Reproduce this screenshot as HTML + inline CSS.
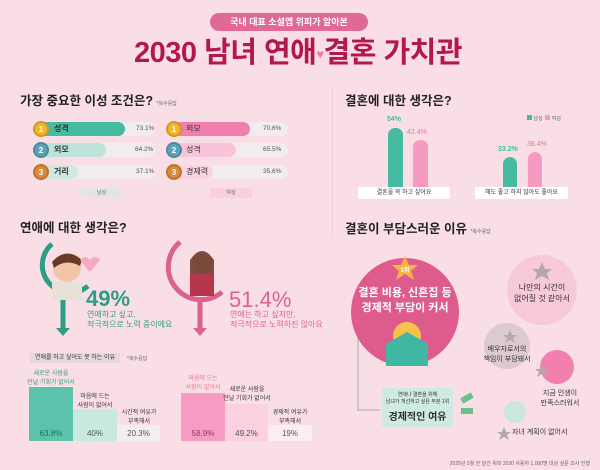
<!DOCTYPE html>
<html><head><meta charset="utf-8"><style>
*{margin:0;padding:0;box-sizing:border-box}
body{width:600px;height:470px;background:#f9dfe5;font-family:"Liberation Sans","Noto Sans CJK KR",sans-serif;position:relative;overflow:hidden;color:#333}
.a{position:absolute;white-space:nowrap}
.h{font-weight:bold;font-size:12.5px;color:#222;line-height:16px}
.s{font-size:5px;color:#666;font-weight:normal}
.c{text-align:center}
.bg{position:absolute;height:14px;border-radius:7px}
.med{position:absolute;width:16px;height:16px;border-radius:50%;color:#fff;font-size:8px;text-align:center;line-height:13px;font-weight:bold;border:2px solid rgba(0,0,0,.15)}
.lbl{font-size:8px;font-weight:bold;color:#333}
.pct{font-size:6.5px;color:#555}
</style></head><body>
<div class="a c" style="left:210px;top:13px;width:158px;height:18px;border-radius:9px;background:#e06a95;color:#fff;font-size:9px;line-height:18px;font-weight:bold">국내 대표 소셜앱 위피가 알아본</div>
<div class="a c" style="left:120px;top:35px;width:356px;font-size:29px;font-weight:bold;color:#b3184c;line-height:36px;letter-spacing:-0.5px">2030 남녀 연애<span style="color:#f27aa3;font-size:13px;vertical-align:middle">♥</span>결혼 가치관</div>

<div class="a h" style="left:20px;top:93px">가장 중요한 이성 조건은? <span class="s">*복수응답</span></div>
<div class="a" style="left:332px;top:88px;width:1px;height:150px;background:#f2cfd8"></div>
<div class="a h" style="left:345px;top:93px">결혼에 대한 생각은?</div>

<!-- men -->
<div class="bg" style="left:35px;top:122px;width:120px;background:#f3ecee"></div>
<div class="bg" style="left:35px;top:122px;width:90px;background:#45bba2"></div>
<div class="bg" style="left:35px;top:143px;width:120px;background:#f3ecee"></div>
<div class="bg" style="left:35px;top:143px;width:71px;background:#bde3da"></div>
<div class="bg" style="left:35px;top:165px;width:120px;background:#f3ecee"></div>
<div class="bg" style="left:35px;top:165px;width:43px;background:#cfe9e2"></div>
<div class="med" style="left:33px;top:121px;background:#f2b52c">1</div>
<div class="med" style="left:33px;top:142px;background:#5ba3b8">2</div>
<div class="med" style="left:33px;top:164px;background:#d98a3a">3</div>
<div class="a lbl" style="left:54px;top:123px">성격</div>
<div class="a lbl" style="left:54px;top:144px">외모</div>
<div class="a lbl" style="left:54px;top:166px">거리</div>
<div class="a pct" style="left:136px;top:125px">73.1%</div>
<div class="a pct" style="left:135px;top:146px">64.2%</div>
<div class="a pct" style="left:136px;top:168px">37.1%</div>
<!-- women -->
<div class="bg" style="left:168px;top:122px;width:120px;background:#f3ecee"></div>
<div class="bg" style="left:168px;top:122px;width:82px;background:#f07fae"></div>
<div class="bg" style="left:168px;top:143px;width:120px;background:#f3ecee"></div>
<div class="bg" style="left:168px;top:143px;width:68px;background:#f9c4d9"></div>
<div class="bg" style="left:168px;top:165px;width:120px;background:#f3ecee"></div>
<div class="bg" style="left:168px;top:165px;width:45px;background:#fbd3e2"></div>
<div class="med" style="left:166px;top:121px;background:#f2b52c">1</div>
<div class="med" style="left:166px;top:142px;background:#5ba3b8">2</div>
<div class="med" style="left:166px;top:164px;background:#d98a3a">3</div>
<div class="a lbl" style="left:186px;top:123px;font-weight:normal">외모</div>
<div class="a lbl" style="left:186px;top:144px;font-weight:normal">성격</div>
<div class="a lbl" style="left:186px;top:166px;font-weight:normal">경제력</div>
<div class="a pct" style="left:263px;top:125px">70.6%</div>
<div class="a pct" style="left:263px;top:146px">65.5%</div>
<div class="a pct" style="left:263px;top:168px">35.6%</div>
<div class="a c s" style="left:81px;top:188px;width:41px;height:10px;background:#e3e5e3;line-height:10px">남성</div>
<div class="a c s" style="left:210px;top:188px;width:42px;height:10px;background:#f8d0de;line-height:10px">여성</div>

<!-- marriage chart -->
<div class="a s" style="left:527px;top:115px"><span style="display:inline-block;width:5px;height:5px;background:#45bba2"></span> 남성 &nbsp;<span style="display:inline-block;width:5px;height:5px;background:#f59ac0"></span> 여성</div>
<div class="a" style="left:388px;top:128px;width:15px;height:59px;background:#45bba2;border-radius:7px 7px 0 0"></div>
<div class="a" style="left:413px;top:140px;width:15px;height:47px;background:#f59ac0;border-radius:7px 7px 0 0"></div>
<div class="a" style="left:503px;top:157px;width:14px;height:30px;background:#45bba2;border-radius:7px 7px 0 0"></div>
<div class="a" style="left:528px;top:152px;width:14px;height:35px;background:#f59ac0;border-radius:7px 7px 0 0"></div>
<div class="a" style="left:387px;top:116px;font-size:7px;font-weight:bold;color:#45bba2">54%</div>
<div class="a" style="left:407px;top:129px;font-size:7px;color:#e8739f">42.4%</div>
<div class="a" style="left:498px;top:146px;font-size:7px;font-weight:bold;color:#45bba2">33.2%</div>
<div class="a" style="left:527px;top:141px;font-size:7px;color:#e8739f">38.4%</div>
<div class="a c" style="left:358px;top:187px;width:92px;height:12px;background:#fff;font-size:6px;line-height:12px">결혼을 꼭 하고 싶어요</div>
<div class="a c" style="left:475px;top:187px;width:93px;height:12px;background:#fff;font-size:6px;line-height:12px">해도 좋고 하지 않아도 좋아요</div>

<!-- 연애 -->
<div class="a h" style="left:20px;top:220px">연애에 대한 생각은?</div>
<svg class="a" style="left:0;top:230px" width="330" height="120">
<path d="M52 14 A26 26 0 1 0 88 56" fill="none" stroke="#2d9e85" stroke-width="5"/>
<line x1="63" y1="70" x2="63" y2="100" stroke="#2d9e85" stroke-width="5"/>
<path d="M56 98 L70 98 L63 106Z" fill="#2d9e85"/>
<circle cx="67" cy="38" r="14" fill="#f1c6a8"/><path d="M52 32 Q66 16 82 30 L80 36 Q66 28 54 38Z" fill="#6b3a24"/>
<rect x="52" y="52" width="30" height="18" fill="#e8e2d6"/>
<path d="M80 30 q5 -6 10 0 q5 -6 10 0 l-10 12z" fill="#f6a9c3"/>
<path d="M180 12 A26 26 0 1 0 222 62" fill="none" stroke="#d9628e" stroke-width="5"/>
<line x1="200" y1="70" x2="200" y2="100" stroke="#d9628e" stroke-width="5"/>
<path d="M193 98 L207 98 L200 106Z" fill="#d9628e"/>
<circle cx="202" cy="34" r="10" fill="#f1c6a8"/><path d="M190 30 Q202 12 214 30 L214 52 L190 52Z" fill="#5b2a1e" opacity=".8"/>
<rect x="190" y="44" width="24" height="22" fill="#b4384a"/>
</svg>
<div class="a" style="left:86px;top:286px;font-size:22px;font-weight:bold;color:#2d9e85">49%</div>
<div class="a" style="left:87px;top:310px;font-size:8px;color:#2d9e85;line-height:10px">연애하고 싶고,<br>적극적으로 노력 중이에요</div>
<div class="a" style="left:229px;top:287px;font-size:22px;color:#d9628e">51.4%</div>
<div class="a" style="left:230px;top:310px;font-size:8px;color:#d9628e;line-height:10px">연애는 하고 싶지만,<br>적극적으로 노력하진 않아요</div>
<div class="a c" style="left:30px;top:353px;width:90px;height:10px;background:#e6d9dd;font-size:6px;line-height:10px">연애를 하고 싶어도 못 하는 이유</div>
<div class="a s" style="left:127px;top:355px;font-size:5px">*복수응답</div>

<div class="a" style="left:29px;top:387px;width:44px;height:54px;background:#5bc2ac"></div>
<div class="a" style="left:73px;top:409px;width:44px;height:32px;background:#c9e8e0"></div>
<div class="a" style="left:117px;top:425px;width:43px;height:16px;background:#f3eff0"></div>
<div class="a" style="left:181px;top:393px;width:44px;height:48px;background:#f69cc2"></div>
<div class="a" style="left:225px;top:404px;width:43px;height:37px;background:#fbd0e1"></div>
<div class="a" style="left:268px;top:425px;width:44px;height:16px;background:#fcedf2"></div>
<div class="a c" style="left:22px;top:370px;width:58px;font-size:6px;line-height:9px;color:#2d9e85">새로운 사람을<br>만날 기회가 없어서</div>
<div class="a c" style="left:73px;top:393px;width:44px;font-size:6px;line-height:9px">마음에 드는<br>사람이 없어서</div>
<div class="a c" style="left:117px;top:409px;width:44px;font-size:6px;line-height:9px">시간적 여유가<br>부족해서</div>
<div class="a c" style="left:181px;top:375px;width:44px;font-size:6px;line-height:9px;color:#e8739f">마음에 드는<br>사람이 없어서</div>
<div class="a c" style="left:220px;top:386px;width:54px;font-size:6px;line-height:9px">새로운 사람을<br>만날 기회가 없어서</div>
<div class="a c" style="left:268px;top:409px;width:44px;font-size:6px;line-height:9px">경제적 여유가<br>부족해서</div>
<div class="a c" style="left:29px;top:429px;width:44px;font-size:8px;color:#1e6e5c">63.8%</div>
<div class="a c" style="left:73px;top:429px;width:44px;font-size:8px;color:#555">40%</div>
<div class="a c" style="left:117px;top:429px;width:43px;font-size:8px;color:#555">20.3%</div>
<div class="a c" style="left:181px;top:429px;width:44px;font-size:8px;color:#9b3560">58.9%</div>
<div class="a c" style="left:225px;top:429px;width:43px;font-size:8px;color:#555">49.2%</div>
<div class="a c" style="left:268px;top:429px;width:44px;font-size:8px;color:#555">19%</div>

<!-- 결혼 부담 -->
<div class="a h" style="left:345px;top:221px">결혼이 부담스러운 이유 <span class="s">*복수응답</span></div>
<svg class="a" style="left:320px;top:240px" width="280" height="200">
<path d="M38 72 V170 H60" fill="none" stroke="#aaa" stroke-width="1"/>
<circle cx="85" cy="72" r="54" fill="#de5c8d"/>
<circle cx="222" cy="50" r="35" fill="#f8c9da"/>
<circle cx="187" cy="106" r="23" fill="#ddc9d0"/>
<circle cx="237" cy="127" r="17" fill="#f27fad"/>
<circle cx="195" cy="172" r="11" fill="#cce6e0"/>
<polygon points="85,16 89,25 98,25 91,31 94,40 85,34 76,40 79,31 72,25 81,25" fill="#f6b73c"/>
<circle cx="87" cy="96" r="14" fill="#f6c24a"/>
<polygon points="66,104 87,92 108,104 108,126 66,126" fill="#3fb7a3"/>
<polygon points="222,22 225,29 232,29 227,33 229,40 222,36 215,40 217,33 212,29 219,29" fill="#b5a7ad"/>
<polygon points="190,90 192,95 197,95 193,98 195,103 190,100 185,103 187,98 183,95 188,95" fill="#b5a7ad"/>
<polygon points="222,124 224,129 229,129 225,132 227,137 222,134 217,137 219,132 215,129 220,129" fill="#b5a7ad"/>
<polygon points="184,187 186,192 191,192 187,195 189,200 184,197 179,200 181,195 177,192 182,192" fill="#b5a7ad"/>
</svg>
<div class="a c" style="left:395px;top:265px;width:20px;font-size:6px;color:#fff;font-weight:bold">1위</div>
<div class="a c" style="left:355px;top:286px;width:100px;font-size:11px;font-weight:bold;color:#fff;line-height:15px">결혼 비용, 신혼집 등<br>경제적 부담이 커서</div>
<div class="a c" style="left:505px;top:282px;width:74px;font-size:8px;line-height:11px">나만의 시간이<br>없어질 것 같아서</div>
<div class="a c" style="left:477px;top:345px;width:60px;font-size:7px;line-height:10px">배우자로서의<br>책임이 부담돼서</div>
<div class="a c" style="left:530px;top:389px;width:60px;font-size:7px;line-height:10px">지금 인생이<br>만족스러워서</div>
<div class="a" style="left:512px;top:427px;font-size:7px">자녀 계획이 없어서</div>
<div class="a c" style="left:382px;top:388px;width:71px;height:39px;background:#cfeae3">
<div style="font-size:5px;line-height:7px;margin-top:4px">연애나 결혼을 위해<br>남녀가 개선하고 싶은 부분 1위</div>
<div style="font-size:10px;font-weight:bold;margin-top:2px">경제적인 여유</div></div>
<div class="a" style="left:461px;top:395px;width:12px;height:6px;background:#6cc08a;transform:rotate(-30deg)"></div>
<div class="a" style="left:461px;top:408px;width:12px;height:6px;background:#6cc08a"></div>
<div class="a" style="right:10px;top:460px;font-size:5px;color:#666">2025년 5월 한 달간 위피 2030 사용자 1,000명 대상 설문 조사 진행</div>
</body></html>
